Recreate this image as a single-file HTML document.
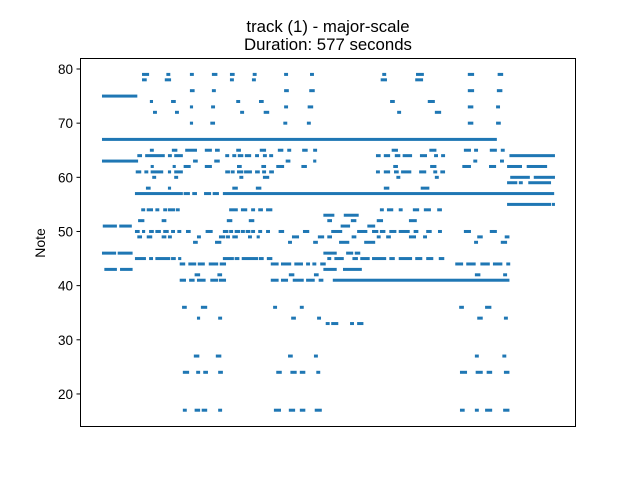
<!DOCTYPE html>
<html><head><meta charset="utf-8"><style>
html,body{margin:0;padding:0;background:#fff;}
svg{display:block;font-family:"Liberation Sans","DejaVu Sans",sans-serif;}
</style></head><body>
<svg id="chart" width="640" height="480" viewBox="0 0 640 480">
<text x="328" y="32" text-anchor="middle" font-size="16.8" fill="#000">track (1) - major-scale</text>
<text x="328" y="50" text-anchor="middle" font-size="16.8" fill="#000">Duration: 577 seconds</text>
<g id="marks"></g>
<g id="yaxis"></g>
<rect x="80.5" y="58.5" width="495" height="368" fill="none" stroke="#000" stroke-width="1"/>
<text transform="translate(45,243) rotate(-90)" text-anchor="middle" font-size="14" fill="#000">Note</text>
</svg>
<script>
const yTicks = [20, 30, 40, 50, 60, 70, 80];
const pitches = [79,78,76,75,74,73,72,70,67,65,64,63,62,61,60,59,58,57,55,54,53,52,51,50,49,48,46,45,44,43,42,41,36,34,33,27,24,17];
const spans = [
[[51,60],[82,87],[112,117],[140,147],[163,169],[192,197],[232,237],[265,270],[357,362],[400,410],[466,474],[504,511]],
[[51,57],[80,88],[163,168],[191,196],[355,363],[399,409]],
[[112,118],[140,145],[232,238],[264,271],[466,474],[503,510]],
[[0,45]],
[[61,65],[88,94],[171,176],[200,206],[367,373],[415,424]],
[[112,116],[139,144],[232,237],[262,269],[466,473],[502,507]],
[[65,70],[93,98],[176,181],[206,213],[376,381],[424,432]],
[[112,116],[138,144],[231,236],[261,266],[466,473],[502,508]],
[[0,503]],
[[61,66],[89,96],[106,121],[131,140],[144,150],[171,177],[201,209],[224,231],[236,241],[255,262],[269,274],[369,377],[417,426],[461,470],[474,479],[494,503],[508,513]],
[[45,51],[55,80],[84,89],[92,103],[157,162],[166,171],[173,180],[182,190],[195,200],[205,210],[213,218],[349,355],[359,367],[373,380],[383,395],[405,414],[423,428],[432,437],[519,577]],
[[0,46],[116,122],[143,150],[234,240],[269,273],[473,478],[507,512]],
[[62,66],[90,94],[104,113],[131,140],[172,178],[203,209],[222,232],[254,261],[371,377],[418,426],[459,470],[493,502],[516,535],[541,567]],
[[43,50],[54,59],[62,78],[84,88],[92,103],[157,163],[164,169],[172,180],[181,191],[195,201],[204,209],[213,219],[349,354],[359,367],[372,378],[381,394],[404,413],[422,427],[431,437]],
[[64,69],[92,97],[175,180],[205,213],[375,380],[424,429],[520,545],[550,577]],
[[516,529],[531,536],[543,572]],
[[56,62],[84,88],[166,173],[196,203],[359,366],[406,417]],
[[42,103],[104,112],[115,121],[130,139],[141,149],[154,576]],
[[516,572],[573,577]],
[[50,55],[57,65],[68,73],[78,83],[84,93],[94,99],[162,173],[177,185],[190,195],[199,205],[209,217],[354,359],[363,371],[378,383],[396,404],[410,419],[427,433]],
[[282,296],[308,327]],
[[46,54],[76,82],[159,166],[187,194],[287,293],[317,324],[350,358],[391,401]],
[[1,19],[22,38],[304,316],[338,348]],
[[42,48],[51,55],[60,66],[68,75],[78,85],[88,93],[96,101],[107,113],[132,141],[154,161],[162,167],[169,176],[177,182],[183,189],[190,195],[199,204],[209,214],[225,232],[256,264],[292,306],[325,338],[344,352],[354,361],[366,375],[378,392],[397,403],[413,420],[428,433],[461,470],[494,503]],
[[45,51],[57,64],[76,82],[84,89],[121,126],[149,157],[158,163],[166,173],[186,191],[197,201],[242,251],[275,283],[287,293],[318,324],[350,355],[362,368],[391,400],[409,414],[478,485],[513,519]],
[[116,122],[144,152],[237,242],[269,275],[302,315],[334,348],[474,479],[508,516]],
[[0,18],[20,39],[282,299],[311,320],[322,329]],
[[42,56],[60,65],[68,87],[88,94],[97,101],[154,168],[169,175],[178,199],[200,206],[210,217],[287,292],[296,308],[319,326],[329,341],[344,362],[366,373],[378,395],[399,408],[413,422],[429,436]],
[[99,106],[110,120],[122,131],[136,148],[150,158],[215,225],[228,241],[245,256],[260,265],[268,273],[278,285],[450,460],[464,476],[482,494],[498,510],[515,520]],
[[3,19],[23,39],[282,299],[307,331]],
[[118,125],[147,153],[238,245],[270,276],[475,482],[511,516]],
[[99,107],[111,118],[121,132],[138,148],[149,158],[215,225],[228,237],[243,257],[260,271],[276,282],[294,519]],
[[102,108],[126,134],[218,223],[252,257],[455,461],[488,496]],
[[121,125],[148,153],[241,247],[274,279],[478,485],[512,517]],
[[285,290],[292,301],[316,321],[325,333]],
[[117,124],[145,152],[237,243],[270,275],[475,480],[510,515]],
[[103,111],[120,125],[129,135],[148,154],[222,229],[240,248],[252,259],[273,278],[456,465],[476,485],[490,497],[512,519]],
[[103,108],[118,125],[127,134],[148,153],[219,228],[238,246],[252,259],[271,280],[456,462],[475,480],[488,497],[511,519]]
];
const xDomain = [-28, 603.8];
const yDomain = [13.9, 82.03];
const plot = {left: 80, right: 576, top: 58, bottom: 427};
function xScale(t){ return plot.left + (t - xDomain[0]) / (xDomain[1] - xDomain[0]) * (plot.right - plot.left); }
function yScale(n){ return plot.bottom - (n - yDomain[0]) / (yDomain[1] - yDomain[0]) * (plot.bottom - plot.top); }
const NS = "http://www.w3.org/2000/svg";
const marks = document.getElementById('marks');
pitches.forEach(function(p, i){
  spans[i].forEach(function(s){
    const r = document.createElementNS(NS, 'rect');
    
    
    const x0 = xScale(s[0]), x1 = xScale(s[1]);
    r.setAttribute('x', x0.toFixed(2));
    r.setAttribute('y', (yScale(p) - 1.5).toFixed(2));
    r.setAttribute('width', Math.max(1, x1 - x0).toFixed(2));
    r.setAttribute('height', '3');
    r.setAttribute('fill', '#1f77b4');
    marks.appendChild(r);
  });
});
const yaxis = document.getElementById('yaxis');
yTicks.forEach(function(v){
  const y = yScale(v);
  const l = document.createElementNS(NS, 'line');
  
  
  l.setAttribute('x1', 76.5); l.setAttribute('x2', 80.5);
  l.setAttribute('y1', y); l.setAttribute('y2', y);
  l.setAttribute('stroke', '#000'); l.setAttribute('stroke-width', '1');
  yaxis.appendChild(l);
  const t = document.createElementNS(NS, 'text');
  
  
  t.setAttribute('x', 73); t.setAttribute('y', y + 5);
  t.setAttribute('text-anchor', 'end');
  t.setAttribute('font-size', '13.5');
  t.textContent = v;
  yaxis.appendChild(t);
});
</script>
</body></html>
